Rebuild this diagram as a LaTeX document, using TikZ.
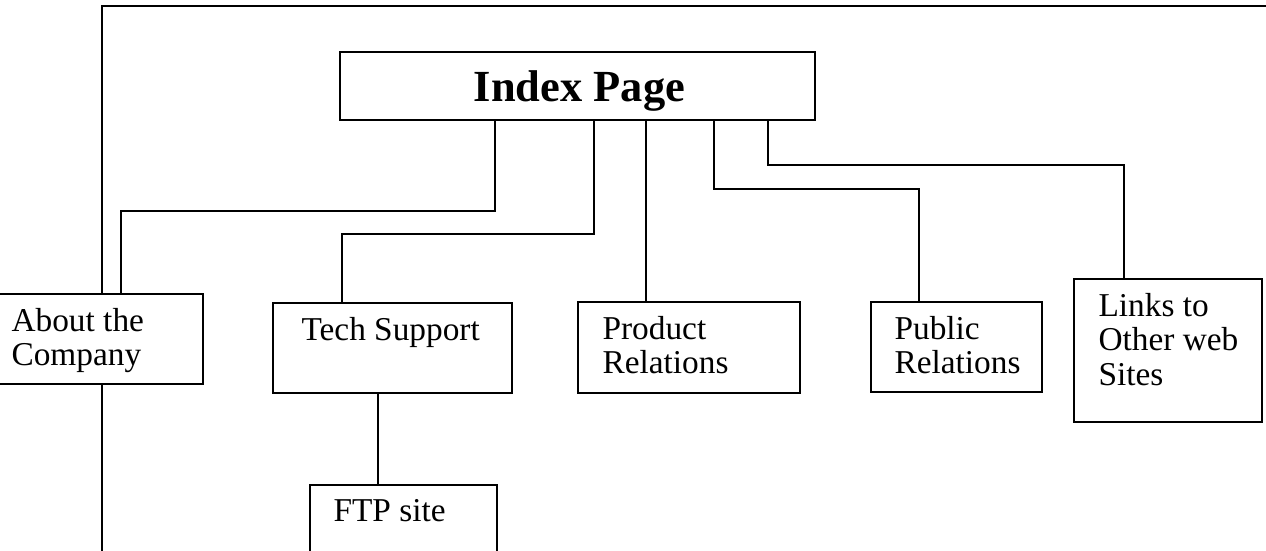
\documentclass[tikz,border=0pt]{standalone}
\usepackage{fontspec}
\setmainfont{Liberation Serif}
\usetikzlibrary{fit}

\tikzset{
  pagebox/.style={draw, fill=white, line width=0.7pt, inner sep=0pt},
  pagetext/.style={anchor=north west, inner sep=0pt, align=left, font=\fontsize{12}{12.3}\selectfont},
  link/.style={line width=0.6pt},
}

\begin{document}
\begin{tikzpicture}[x=0.36pt, y=-0.36pt, line join=miter]
  \useasboundingbox (0,0) rectangle (1266,551);
  %--- Site frame
    \draw[link] (102,570) |- (1290,6);
  %--- Index page
    \node[pagebox, fit={(340,52) (815,120)}] (index) {};
    \node[anchor=base, inner sep=0pt, font=\fontsize{16}{19}\selectfont\bfseries] (indextxt) at ([shift={(2,15)}]index.center) {Index Page};
  %--- About the company
    \node[pagebox, fit={(-13,294) (203,384)}] (about) {};
    \node[pagetext] (abouttxt) at ([shift={(25,15)}]about.north west) {About the\\Company};
  %--- Tech support
    \node[pagebox, fit={(273,303) (512,393)}] (tech) {};
    \node[pagetext] (techtxt) at ([shift={(29,15)}]tech.north west) {Tech Support};
  %--- Product relations
    \node[pagebox, fit={(578,302) (800,393)}] (product) {};
    \node[pagetext] (producttxt) at ([shift={(25,15)}]product.north west) {Product\\Relations};
  %--- Public relations
    \node[pagebox, fit={(871,302) (1042,392)}] (public) {};
    \node[pagetext] (publictxt) at ([shift={(24,15)}]public.north west) {Public\\Relations};
  %--- Links
    \node[pagebox, fit={(1074,279) (1262,422)}] (links) {};
    \node[pagetext] (linkstxt) at ([shift={(25,15)}]links.north west) {Links to\\Other web\\Sites};
  %--- FTP site
    \node[pagebox, fit={(310,485) (497,620)}] (ftp) {};
    \node[pagetext] (ftptxt) at ([shift={(24,15)}]ftp.north west) {FTP site};
  %--- Connectors
    \draw[link] (index.south -| 495,0) |- (121,211) -- (121,0 |- about.north);
    \draw[link] (index.south -| 594,0) |- (342,234) -- (342,0 |- tech.north);
    \draw[link] (index.south -| 646,0) -- (646,0 |- product.north);
    \draw[link] (index.south -| 714,0) |- (919,189) -- (919,0 |- public.north);
    \draw[link] (index.south -| 768,0) |- (1124,165) -- (1124,0 |- links.north);
    \draw[link] (tech.south -| 378,0) -- (378,0 |- ftp.north);
\end{tikzpicture}
\end{document}
